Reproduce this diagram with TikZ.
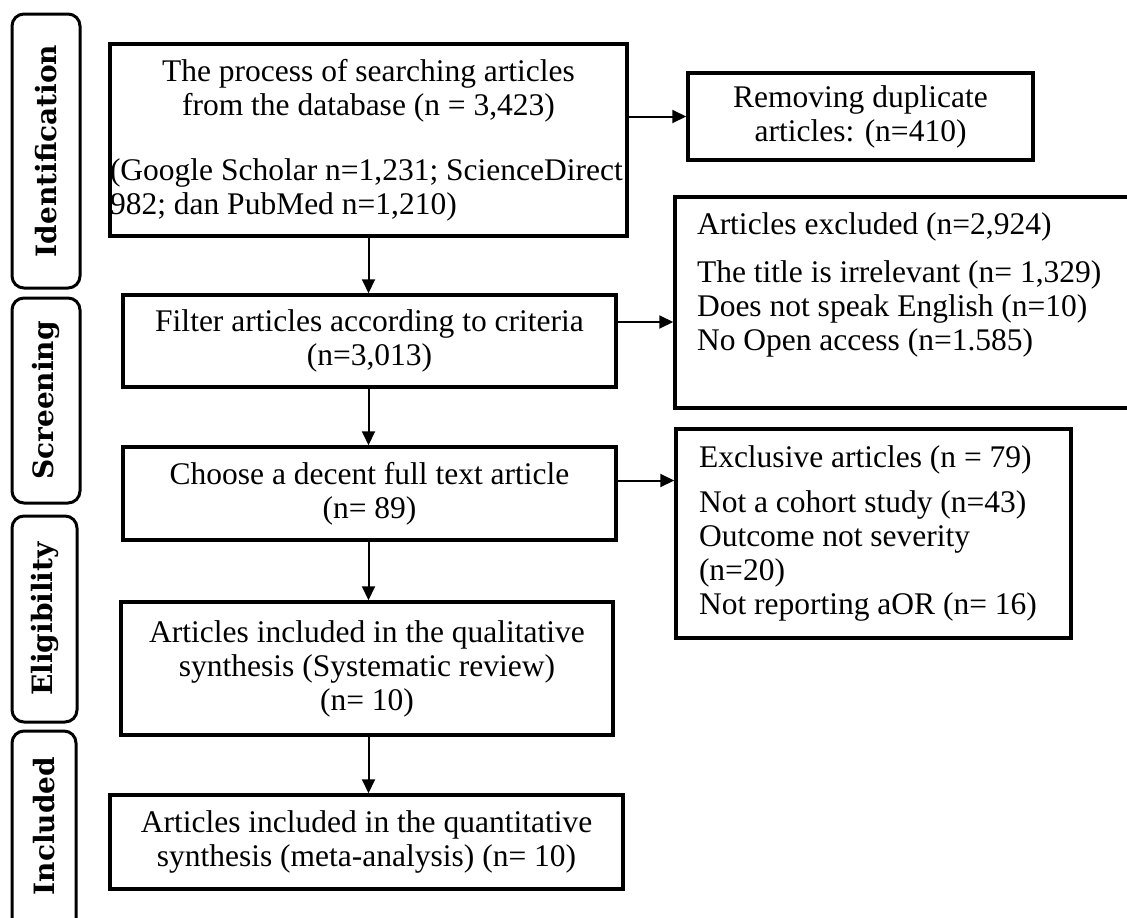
\documentclass[tikz,border=0pt]{standalone}
\usepackage{fontspec}
\setmainfont{Liberation Serif}
\newfontfamily\labelfont{DejaVu Serif}
\usetikzlibrary{arrows.meta}
\begin{document}
\begin{tikzpicture}[x=1pt,y=-1pt,
  box/.style={draw, line width=3.5pt, inner sep=0pt, align=center,
    font=\fontsize{31.5}{34}\selectfont},
  phase/.style={draw, line width=3pt, rounded corners=12pt, rotate=90,
    inner sep=0pt, font=\labelfont\bfseries\fontsize{28}{32}\selectfont},
  arr/.style={line width=2pt, -{Triangle[length=14pt,width=13pt]}}]
\clip (0,0) rectangle (1127,918);
\fill[white] (0,0) rectangle (1127,918);

% phase labels
\node[phase, minimum width=274pt, minimum height=68pt] (pid) at (46,151) {Identification};
\node[phase, minimum width=205pt, minimum height=68pt] (psc) at (46,400.5) {Screening};
\node[phase, minimum width=206pt, minimum height=65pt] (pel) at (44.5,619) {Eligibility};
\node[phase, minimum width=220pt, minimum height=64pt] (pin) at (44,841) {\hspace*{30pt}Included};

% main column
\node[box, minimum width=517pt, minimum height=192pt] (box1) at (368.5,140)
  {\parbox[c][192pt][t]{517pt}{\vspace*{14pt}{\centering\strut The process of searching articles\\
   from the database (n = 3,423)\par}\vspace{31pt}\raggedright
   (Google Scholar n=1,231; ScienceDirect\\982; dan PubMed n=1,210)}};
\node[box, minimum width=493pt, minimum height=92pt] (box4) at (369.5,341)
  {Filter articles according to criteria\\(n=3,013)};
\node[box, minimum width=493pt, minimum height=93pt] (box5) at (369.5,493.5)
  {Choose a decent full text article\\(n= 89)};
\node[box, minimum width=492pt, minimum height=133pt] (box7) at (367,668.5)
  {Articles included in the qualitative\\synthesis (Systematic review)\\(n= 10)};
\node[box, minimum width=513pt, minimum height=94pt] (box8) at (366.5,842)
  {Articles included in the quantitative\\synthesis (meta-analysis) (n= 10)};

% right column
\node[box, minimum width=345pt, minimum height=87pt] (box2) at (860.5,116.5)
  {Removing duplicate\\articles: (n=410)};
\node[box, inner xsep=22pt] (box3) at (905,302.5)
  {\parbox[c][211pt][t]{416pt}{\raggedright\vspace*{14pt}\strut Articles excluded (n=2,924)\par
   \vspace{14pt}\strut The title is irrelevant (n= 1,329)\\Does not speak English (n=10)\\
   No Open access (n=1.585)}};
\node[box, inner xsep=23pt] (box6) at (873.5,533.5)
  {\parbox[c][209pt][t]{349pt}{\raggedright\vspace*{15pt}\strut Exclusive articles (n = 79)\par
   \vspace{11pt}\strut Not a cohort study (n=43)\\Outcome not severity\\(n=20)\\
   Not reporting aOR (n= 16)}};

% connectors
\draw[arr] (box1.south) -- (box1.south |- box4.north);
\draw[arr] (box1.south |- box4.south) -- (box1.south |- box5.north);
\draw[arr] (box1.south |- box5.south) -- (box1.south |- box7.north);
\draw[arr] (box1.south |- box7.south) -- (box1.south |- box8.north);
\draw[arr] (box1.east |- box2.west) -- (box2.west);
\draw[arr] ([yshift=19pt]box4.east) -- ([yshift=19pt]box4.east -| box3.west);
\draw[arr] ([yshift=13pt]box5.east) -- ([yshift=13pt]box5.east -| box6.west);
\end{tikzpicture}
\end{document}
